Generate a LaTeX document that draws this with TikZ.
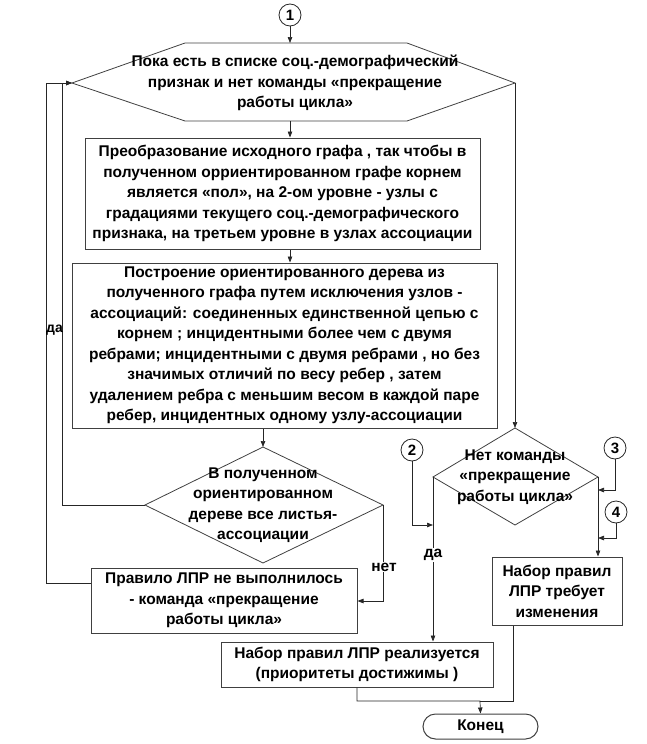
\documentclass[tikz,border=0pt]{standalone}
\usepackage{fontspec}
\setmainfont{Liberation Sans}
\usetikzlibrary{arrows.meta}
\newcommand{\mytf}{\fontsize{15.5}{20.5}\selectfont\bfseries}
\begin{document}
\begin{tikzpicture}[x=1pt,y=-1pt,
  line/.style={draw=black!85, line width=0.7pt},
  arr/.style={line, -{Triangle[length=6pt,width=4.5pt]}},
  box/.style={draw=black!75, line width=1pt, fill=white, align=center, font=\mytf, inner sep=0pt},
  shp/.style={draw=black!75, line width=0.8pt},
  txt/.style={align=center, font=\mytf, inner sep=0pt},
  circ/.style={circle, draw=black!85, line width=0.8pt, minimum size=22pt, inner sep=0pt, font=\bfseries\fontsize{15}{15}\selectfont},
  lab/.style={fill=white, inner sep=1pt, font=\mytf}]
\useasboundingbox (0,0) rectangle (647,744);

% connector circles
\node[circ] (n1) at (290,15) {1};
\node[circ] (n2) at (412,450) {2};
\node[circ] (n3) at (615,448) {3};
\node[circ] (n4) at (616,512) {4};

% hexagon (loop)
\coordinate (hL) at (72,83);
\coordinate (hTL) at (185,43);
\coordinate (hTR) at (407,43);
\coordinate (hR) at (515,83);
\coordinate (hBR) at (407,121);
\coordinate (hBL) at (185,121);
\draw[shp] (hL) -- (hTL) -- (hTR) -- (hR) -- (hBR) -- (hBL) -- cycle;
\node[txt] (hex) at (295,83) {Пока есть в списке соц.-демографический\\признак и нет команды «прекращение\\работы цикла»};
\coordinate (hTop) at (290,43);
\coordinate (hBot) at (290,121);

% boxes
\node[box, minimum width=395pt, minimum height=111pt] (b1) at (282.5,193.5)
 {Преобразование исходного графа , так чтобы в\\полученном орриентированном графе корнем\\является «пол», на 2-ом уровне - узлы с\\градациями текущего соц.-демографического\\признака, на третьем уровне в узлах ассоциации};
\node[box, minimum width=425pt, minimum height=165pt] (b2) at (284.5,345.5)
 {Построение ориентированного дерева из\\полученного графа путем исключения узлов -\\ассоциаций: соединенных единственной цепью с\\корнем ; инцидентными более чем с двумя\\ребрами; инцидентными с двумя ребрами , но без\\значимых отличий по весу ребер , затем\\удалением ребра с меньшим весом в каждой паре\\ребер, инцидентных одному узлу-ассоциации};

% decision 1
\coordinate (d1T) at (263,447);
\coordinate (d1L) at (145,505);
\coordinate (d1R) at (383,505);
\coordinate (d1B) at (263,563);
\draw[shp] (d1T) -- (d1R) -- (d1B) -- (d1L) -- cycle;
\node[txt] (d1) at (263,505) {В полученном\\ориентированном\\дереве все листья-\\ассоциации};

% decision 2
\coordinate (d2T) at (515,428);
\coordinate (d2L) at (433,477);
\coordinate (d2R) at (598,477);
\coordinate (d2B) at (515,525);
\draw[shp] (d2T) -- (d2R) -- (d2B) -- (d2L) -- cycle;
\node[txt] (d2) at (515,477) {Нет команды\\«прекращение\\работы цикла»};

\node[box, minimum width=266pt, minimum height=65pt] (b4) at (224,600.5)
 {Правило ЛПР не выполнилось\\- команда «прекращение\\работы цикла»};
\node[box, minimum width=130pt, minimum height=68pt] (b5) at (557,591)
 {Набор правил\\ЛПР требует\\изменения};
\node[box, minimum width=272pt, minimum height=45pt] (b3) at (357,664.5)
 {Набор правил ЛПР реализуется\\(приоритеты достижимы )};
\node[box, rounded corners=12.5pt, minimum width=115pt, minimum height=25pt] (end) at (480.5,726.5) {Конец};

% connectors
\draw[arr] (n1) -- (hTop);
\draw[arr] (hBot) -- (b1.north -| hBot);
\draw[arr] (b1.south -| hBot) -- (b2.north -| hBot);
\draw[arr] (b2.south -| d1T) -- (d1T);
\draw[arr] (hR) -- (d2T);
\draw[arr] (d1L) -| (62,83) -- (hL);
\draw[arr] (b4.west |- 0,583) -| (46,83) -- (hL);
\draw[arr] (d1R) |- (b4.east |- 0,601);
\draw[arr] (d2L) -- (b3.north -| d2L);
\draw[arr] (n2) |- (433,525);
\draw[arr] (n3) |- (598,490);
\draw[arr] (n4) |- (598,538);
\draw[arr] (d2R) -- (b5.north -| d2R);
\draw[line] (b5.south -| 513,0) |- (480,701);
\draw[arr] (b3.south) |- (480,701) -- (end.north);

% labels
\node[font=\fontsize{14}{14}\selectfont\bfseries, inner sep=0pt] (lyes1) at (54.5,330) {да};
\node[lab] (lno) at (384,567) {нет};
\node[lab] (lyes2) at (433,555) {да};
\end{tikzpicture}
\end{document}
